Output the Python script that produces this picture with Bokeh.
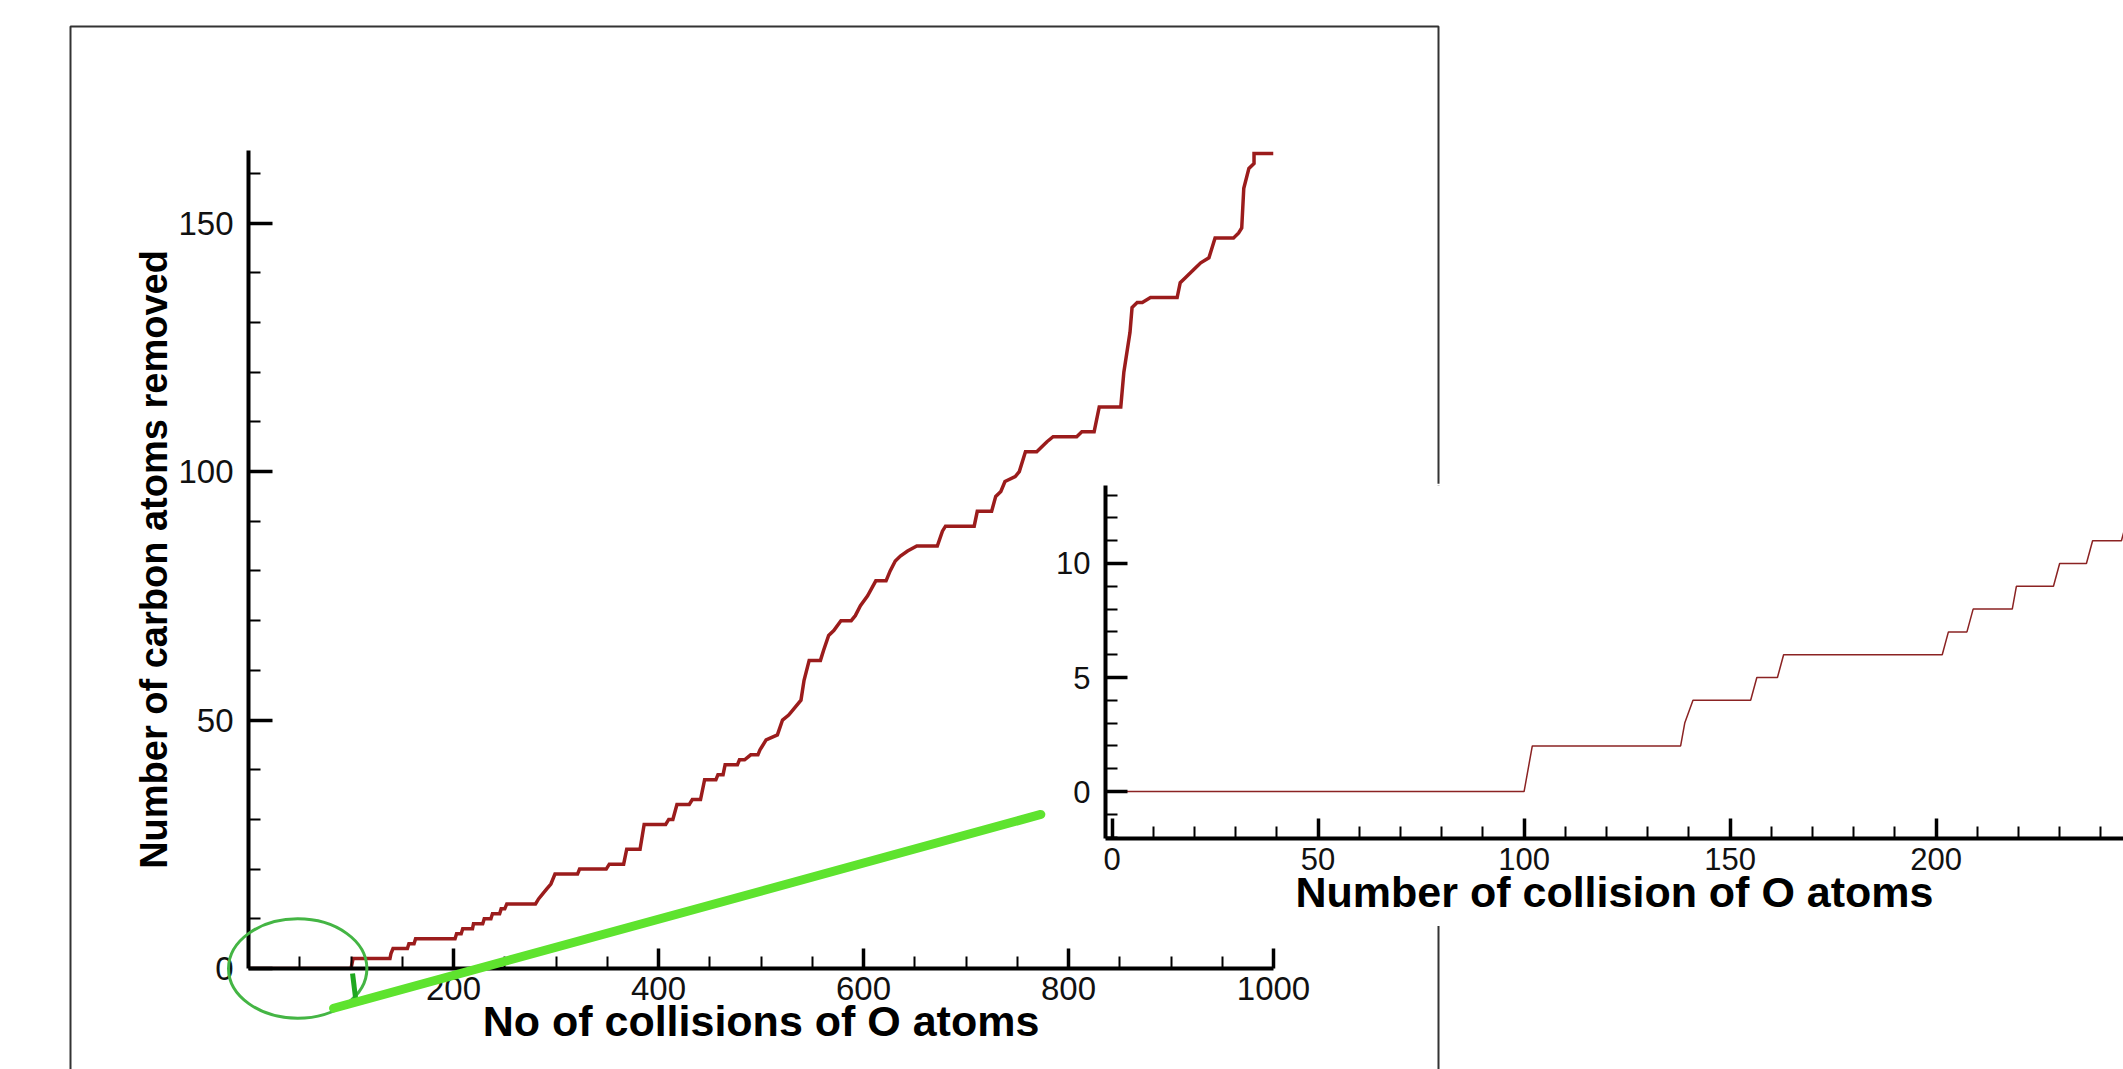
from bokeh.plotting import figure
from bokeh.models import Range1d, FixedTicker
from bokeh.embed import file_html
from bokeh.resources import INLINE

# ---------------- data ----------------
collisions = [0, 100, 102, 138, 139, 141, 155, 156.5, 161.5, 163, 201.5, 203, 207.5, 209,
              218.5, 219.5, 228.5, 230, 236.5, 238, 245, 246.5, 250, 252, 280, 283, 287, 291,
              295, 299, 321, 323, 349, 352, 366, 369, 382, 386, 407, 410, 414, 418, 430, 433,
              441, 445, 456, 458, 463, 465, 477, 479, 484, 490, 497, 499, 505, 516, 521, 527,
              531, 539, 542, 547, 558, 561, 566, 571, 578, 588, 592, 597, 604, 612, 622, 626,
              631, 636, 643, 652, 672, 677, 680, 708, 711, 725, 729, 734, 738, 748, 752, 758,
              769, 774, 779, 785, 790, 808, 813, 825, 830, 851, 854, 860, 862, 867, 872, 880,
              906, 909, 914, 919, 924, 929, 937, 943, 961, 966, 969, 971, 976, 981, 981, 1000]
carbon_removed = [0, 0, 2, 2, 3, 4, 4, 5, 5, 6, 6, 7, 7, 8,
                  8, 9, 9, 10, 10, 11, 11, 12, 12, 13, 13, 14, 15, 16,
                  17, 19, 19, 20, 20, 21, 21, 24, 24, 29, 29, 30, 30, 33, 33, 34,
                  34, 38, 38, 39, 39, 41, 41, 42, 42, 43, 43, 44, 46, 47, 50, 51,
                  52, 54, 58, 62, 62, 64, 67, 68, 70, 70, 71, 73, 75, 78, 78, 80,
                  82, 83, 84, 85, 85, 88, 89, 89, 92, 92, 95, 96, 98, 99, 100, 104,
                  104, 105, 106, 107, 107, 107, 108, 108, 113, 113, 120, 128, 133, 134, 134, 135,
                  135, 138, 139, 140, 141, 142, 143, 147, 147, 148, 149, 157, 161, 162, 164, 164]

main_x_ticks = [200, 400, 600, 800, 1000]
main_x_minor = list(range(50, 1000, 50))
main_y_ticks = [0, 50, 100, 150]
main_y_minor = list(range(10, 170, 10))
inset_x_ticks = [0, 50, 100, 150, 200]
inset_x_minor = list(range(10, 250, 10))
inset_y_ticks = [0, 5, 10]
inset_y_minor = list(range(-2, 14))

main_x_title = "No of collisions of O atoms"
main_y_title = "Number of carbon atoms removed"
inset_x_title = "Number of collision of O atoms"

# hand-drawn highlight, in main-chart data units
highlight_x, highlight_y = [48], [0]
highlight_w, highlight_h = 135, 20
pointer_x = [83, 773]
pointer_y = [-8, 31]
mark_x = [101.5, 104.5]
mark_y = [-1, -6]

# ---------------- layout constants ----------------
PAGE_W, PAGE_H = 2123, 1069
MAIN_X = (0, 1000)
MAIN_Y = (0, 164.6)
ML, MR, MT, MB = 248, 850, 150, 101           # main frame borders (px)
INSET_X = (-1.6, 245.5)
INSET_Y = (-2.06, 13.42)
IN_LEFT, IN_TOP, IN_W, IN_H = 1050, 483, 1073, 443

TICK_FONT = "Liberation Sans"
TITLE_FONT = "Liberation Sans"
RED = "#9b1c1c"


def style_axis(ax, tick_len, label_size):
    ax.axis_line_width = 4
    ax.axis_line_color = "black"
    ax.major_tick_in = tick_len
    ax.major_tick_out = 0
    ax.minor_tick_in = 12
    ax.minor_tick_out = 0
    ax.major_tick_line_width = 3.5
    ax.minor_tick_line_width = 2
    ax.major_tick_line_color = "black"
    ax.minor_tick_line_color = "black"
    ax.major_label_text_font = TICK_FONT
    ax.major_label_text_font_size = label_size
    ax.major_label_text_color = "#111111"
    ax.axis_label_text_font = TITLE_FONT
    ax.axis_label_text_font_style = "bold"
    ax.axis_label_text_color = "black"


# ---------------- main chart ----------------
p = figure(width=PAGE_W, height=PAGE_H, output_backend="svg", toolbar_location=None,
           x_range=Range1d(*MAIN_X), y_range=Range1d(*MAIN_Y),
           min_border_left=ML, min_border_right=MR, min_border_top=MT, min_border_bottom=MB)
p.grid.visible = False
p.outline_line_color = None
p.background_fill_color = "white"
p.border_fill_color = "white"
p.line(collisions, carbon_removed, line_color=RED, line_width=3.5, line_join="miter")

xa, ya = p.xaxis[0], p.yaxis[0]
xa.ticker = FixedTicker(ticks=main_x_ticks, minor_ticks=main_x_minor)
ya.ticker = FixedTicker(ticks=main_y_ticks, minor_ticks=main_y_minor)
style_axis(xa, 20, "33px")
style_axis(ya, 24, "33px")
xa.axis_label = main_x_title
ya.axis_label = main_y_title
xa.axis_label_text_font_size = "43px"
ya.axis_label_text_font_size = "38px"
xa.major_label_standoff = 8
xa.axis_label_standoff = -6
ya.major_label_standoff = 15
ya.axis_label_standoff = 0

# ---------------- overlay: frame border + green highlight ----------------
fw = PAGE_W - ML - MR
fh = PAGE_H - MT - MB
sx = fw / (MAIN_X[1] - MAIN_X[0])
sy = fh / (MAIN_Y[1] - MAIN_Y[0])
ox0 = MAIN_X[0] - ML / sx
ox1 = MAIN_X[1] + MR / sx
oy0 = MAIN_Y[0] - MB / sy
oy1 = MAIN_Y[1] + MT / sy

ov = figure(width=PAGE_W, height=PAGE_H, output_backend="svg", toolbar_location=None,
            x_range=Range1d(ox0, ox1), y_range=Range1d(oy0, oy1),
            x_axis_type=None, y_axis_type=None,
            min_border_left=0, min_border_right=0, min_border_top=0, min_border_bottom=0)
ov.outline_line_color = None
ov.background_fill_color = None
ov.border_fill_color = None


def cx(px):
    return ox0 + px / sx


def cy(py):
    return oy1 - py / sy


# outer frame of the figure (bottom edge lies below the page)
ov.quad(left=[cx(70)], right=[cx(1438)], top=[cy(26)], bottom=[cy(1140)],
        fill_color=None, line_color="#333333", line_width=2)
ov.ellipse(x=highlight_x, y=highlight_y, width=highlight_w, height=highlight_h,
           fill_color=None, line_color="#44b544", line_width=3)
ov.line(mark_x, mark_y, line_color="#1fa81f", line_width=5)
ov.line(pointer_x, pointer_y, line_color="#5ee32e", line_width=9, line_cap="round")

# ---------------- inset (zoom of the first collisions) ----------------
ins = figure(width=IN_W, height=IN_H, output_backend="svg", toolbar_location=None,
             x_range=Range1d(*INSET_X), y_range=Range1d(*INSET_Y),
             min_border_left=55, min_border_right=0, min_border_top=2, min_border_bottom=88)
ins.grid.visible = False
ins.outline_line_color = None
ins.background_fill_color = "white"
ins.border_fill_color = "white"
ins.line(collisions, carbon_removed, line_color="#8b2323", line_width=1.5)
ixa, iya = ins.xaxis[0], ins.yaxis[0]
ixa.ticker = FixedTicker(ticks=inset_x_ticks, minor_ticks=inset_x_minor)
iya.ticker = FixedTicker(ticks=inset_y_ticks, minor_ticks=inset_y_minor)
style_axis(ixa, 20, "31px")
style_axis(iya, 22, "31px")
ixa.axis_label = inset_x_title
ixa.axis_label_text_font_size = "43px"
ixa.major_label_standoff = 9
ixa.axis_label_standoff = -5
iya.major_label_standoff = 15

# stack the three independent roots on top of each other
ov.margin = (-PAGE_H, 0, 0, 0)
ins.margin = (-PAGE_H + IN_TOP, 0, 0, IN_LEFT)

open("out.html", "w").write(file_html([p, ov, ins], INLINE))
